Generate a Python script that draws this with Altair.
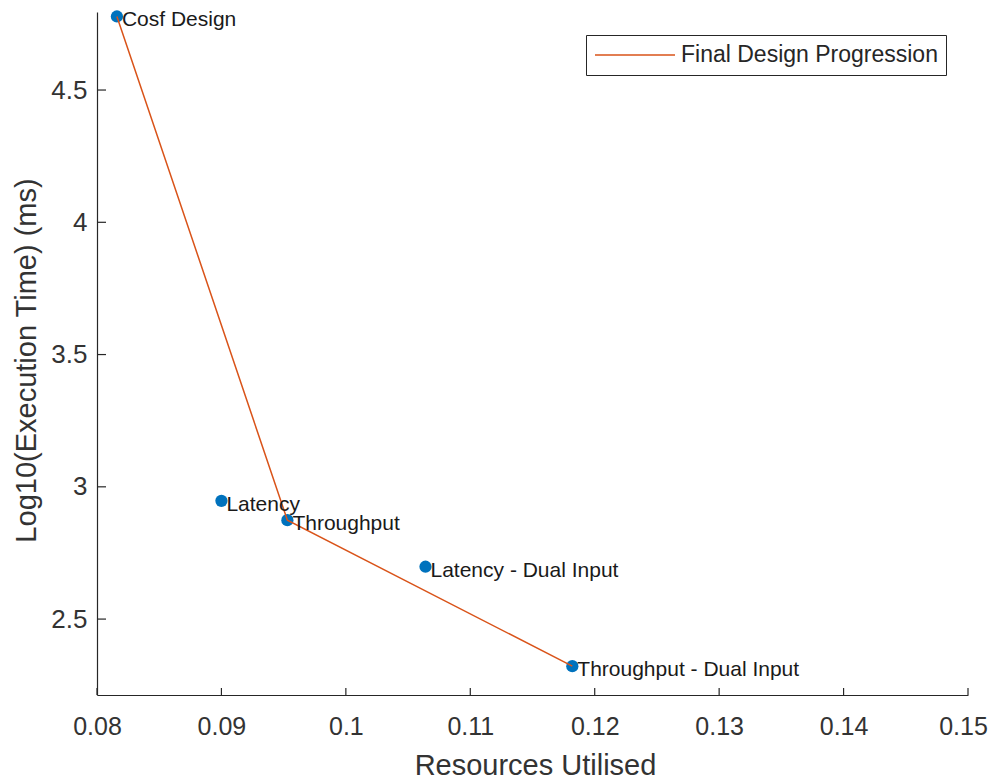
import altair as alt
import pandas as pd

# ---- data ----
names = ["Cosf Design", "Latency", "Throughput", "Latency - Dual Input", "Throughput - Dual Input"]
resources = [0.0816, 0.0900, 0.0953, 0.1064, 0.1182]
log_time = [4.778, 2.947, 2.874, 2.698, 2.322]

progression = ["Cosf Design", "Throughput", "Throughput - Dual Input"]
series_name = "Final Design Progression"

x_ticks = [0.08, 0.09, 0.10, 0.11, 0.12, 0.13, 0.14, 0.15]
y_ticks = [2.5, 3.0, 3.5, 4.0, 4.5]
x_domain = [0.08, 0.15]
y_domain = [2.213, 4.795]

pts = pd.DataFrame({"name": names, "res": resources, "t": log_time})
line_df = pts[pts["name"].isin(progression)].copy()
line_df["order"] = [progression.index(n) for n in line_df["name"]]
line_df["series"] = series_name
xt = pd.DataFrame({"res": x_ticks})
yt = pd.DataFrame({"t": y_ticks})

FONT = "Liberation Sans"
AX = "#262626"

x_axis = alt.Axis(
    title="Resources Utilised", values=x_ticks, format=".2~f", grid=False,
    ticks=False, tickSize=0, labelFontSize=25, labelFont=FONT, labelColor="#333333",
    labelPadding=19, titleFontSize=29, titleFont=FONT, titleFontWeight="normal",
    titleColor="#333333", titleBaseline="alphabetic", titleY=79, titleX=438,
    domainColor=AX, domainWidth=1.2, labelFlush=False,
    labelOffset={"condition": {"test": "datum.value >= 0.1499", "value": -5}, "value": 0},
)
y_axis = alt.Axis(
    title="Log10(Execution Time) (ms)", values=y_ticks, format="~g", grid=False,
    ticks=False, tickSize=0, labelFontSize=26, labelFont=FONT, labelColor="#333333",
    labelPadding=10, titleFontSize=29, titleFont=FONT, titleFontWeight="normal",
    titleColor="#333333", titleBaseline="alphabetic", titleX=-62, titleY=348,
    domainColor=AX, domainWidth=1.2, labelFlush=False,
)

X = alt.X("res:Q", scale=alt.Scale(domain=x_domain, nice=False, zero=False), axis=x_axis)
Y = alt.Y("t:Q", scale=alt.Scale(domain=y_domain, nice=False, zero=False), axis=y_axis)

points = alt.Chart(pts).mark_circle(size=150, color="#0072BD", opacity=1).encode(x=X, y=Y)

line = alt.Chart(line_df).mark_line(strokeWidth=1.5).encode(
    x=X, y=Y, order="order:Q",
    stroke=alt.Stroke(
        "series:N",
        scale=alt.Scale(domain=[series_name], range=["#D95319"]),
        legend=alt.Legend(
            title=None, orient="none", legendX=489, legendY=23,
            strokeColor=AX, fillColor="white", padding=8, cornerRadius=0,
            symbolType="stroke", symbolSize=6400, symbolStrokeWidth=1.5,
            clipHeight=24,
            labelFontSize=23, labelFont=FONT, labelColor="#262626",
            labelOffset=5, labelLimit=500,
        ),
    ),
)

labels = alt.Chart(pts).mark_text(
    align="left", baseline="middle", dx=5, dy=4, fontSize=21, font=FONT, color="#1a1a1a"
).encode(x=X, y=Y, text="name:N")

xtick_layer = alt.Chart(xt).mark_rule(color=AX, strokeWidth=1.2).encode(
    x=X, y=alt.value(683), y2=alt.value(676)
)
ytick_layer = alt.Chart(yt).mark_rule(color=AX, strokeWidth=1.2).encode(
    y=Y, x=alt.value(0), x2=alt.value(9)
)

chart = alt.layer(points, line, labels, xtick_layer, ytick_layer).properties(
    width=871, height=683, autosize="none",
    padding={"left": 89, "top": 4, "right": 20, "bottom": 95},
    background="white",
).configure_view(stroke=None)

chart.save("out.html", embed_options={"renderer": "svg", "actions": False})
